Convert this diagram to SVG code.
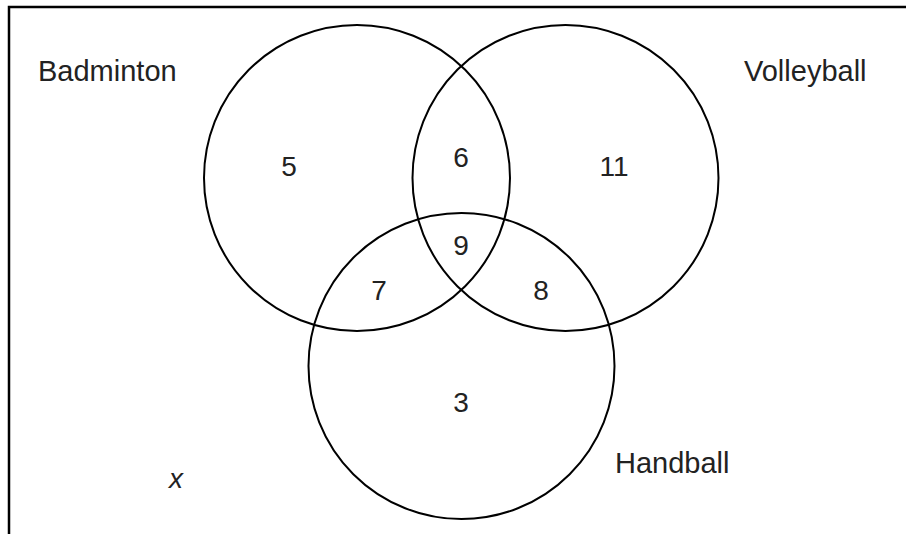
<svg xmlns="http://www.w3.org/2000/svg" width="906" height="534" viewBox="0 0 906 534">
<style>
.c{fill:none;stroke:#000;stroke-width:2}
.t{font-family:"Liberation Sans",Arial,sans-serif;font-size:29px;fill:#222}
.n{font-family:"Liberation Sans",Arial,sans-serif;font-size:28px;fill:#222;text-anchor:middle}
</style>
<rect width="906" height="534" fill="#fff"/>
<path d="M9,534 V7 H906" fill="none" stroke="#000" stroke-width="2.5"/>
<g id="badminton">
<circle class="c" cx="357" cy="178" r="153"/>
<text class="t" x="38" y="81">Badminton</text>
</g>
<g id="volleyball">
<circle class="c" cx="565.5" cy="178" r="153"/>
<text class="t" x="744" y="81">Volleyball</text>
</g>
<g id="handball">
<circle class="c" cx="461.5" cy="366" r="153"/>
<text class="t" x="615" y="473">Handball</text>
</g>
<g id="regions">
<text class="n" x="289" y="176">5</text>
<text class="n" x="461" y="167">6</text>
<text class="n" x="614" y="176">11</text>
<text class="n" x="461" y="255">9</text>
<text class="n" x="379" y="300">7</text>
<text class="n" x="541" y="300">8</text>
<text class="n" x="461" y="412">3</text>
<text class="n" x="176" y="488" font-style="italic">x</text>
</g>
</svg>
